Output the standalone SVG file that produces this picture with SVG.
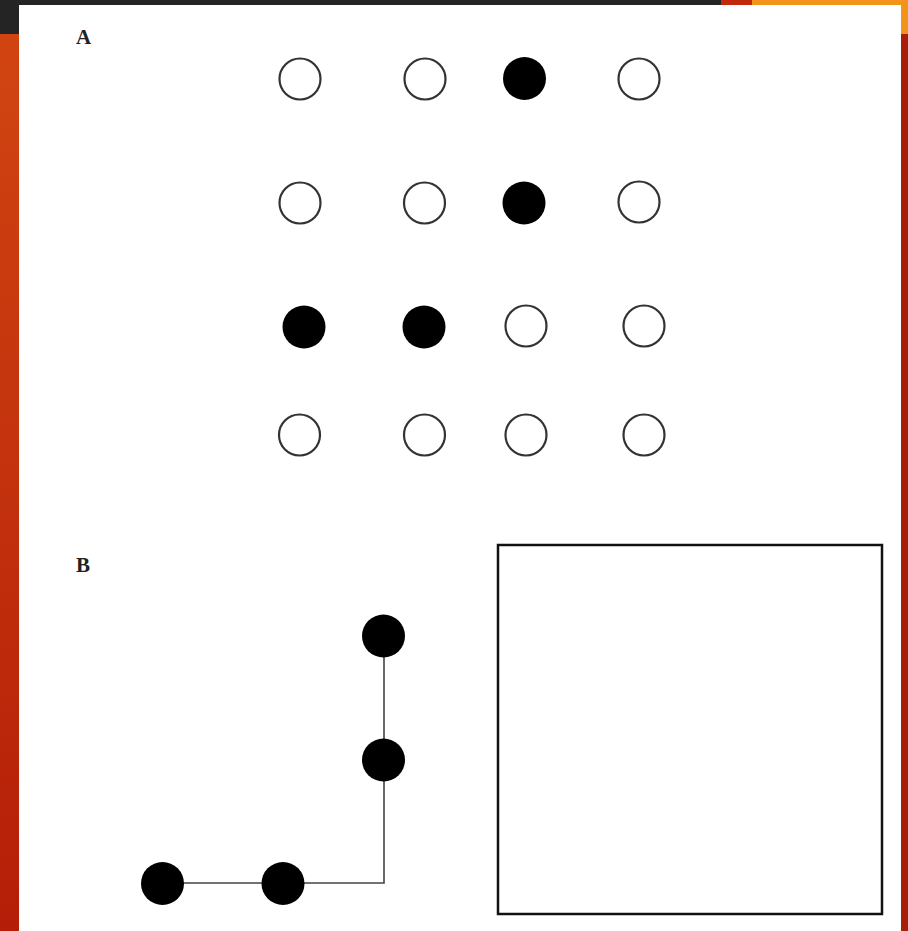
<svg xmlns="http://www.w3.org/2000/svg" width="908" height="931" viewBox="0 0 908 931">
<style>
.o{fill:#fff;stroke:#333;stroke-width:2.2}
.f{fill:#000;stroke:none}
.lbl{font-family:"Liberation Serif",serif;font-size:21px;font-weight:bold;fill:#222}
.edge{fill:none;stroke:#444;stroke-width:1.6}
</style>
<defs>
<linearGradient id="side" x1="0" y1="0" x2="0" y2="1">
<stop offset="0" stop-color="#d24612"/>
<stop offset="1" stop-color="#b41e08"/>
</linearGradient>
</defs>
<g id="background">
<rect x="0" y="0" width="908" height="931" fill="url(#side)"/>
<rect x="0" y="0" width="721" height="34" fill="#242424"/>
<rect x="721" y="0" width="31" height="5" fill="#c02a0a"/>
<rect x="752" y="0" width="156" height="5" fill="#f2941a"/>
<rect x="901" y="0" width="7" height="34" fill="#f2941a"/>
<rect x="901" y="34" width="7" height="897" fill="#a81e08"/>
<rect x="19" y="5" width="882" height="926" fill="#fff"/>
</g>
<g id="labels">
<text class="lbl" x="76" y="44">A</text>
<text class="lbl" x="76" y="572">B</text>
</g>
<g id="gridA">
<circle id="a11" class="o" cx="300" cy="79" r="20.5"/>
<circle id="a12" class="o" cx="425" cy="79" r="20.5"/>
<circle id="a13" class="f" cx="524.5" cy="78.5" r="21.5"/>
<circle id="a14" class="o" cx="639" cy="79" r="20.5"/>
<circle id="a21" class="o" cx="300" cy="203" r="20.5"/>
<circle id="a22" class="o" cx="424.5" cy="203" r="20.5"/>
<circle id="a23" class="f" cx="524" cy="203" r="21.5"/>
<circle id="a24" class="o" cx="639" cy="202" r="20.5"/>
<circle id="a31" class="f" cx="304" cy="327" r="21.5"/>
<circle id="a32" class="f" cx="424" cy="327" r="21.5"/>
<circle id="a33" class="o" cx="526" cy="326" r="20.5"/>
<circle id="a34" class="o" cx="644" cy="326" r="20.5"/>
<circle id="a41" class="o" cx="299.5" cy="435" r="20.5"/>
<circle id="a42" class="o" cx="424.5" cy="435" r="20.5"/>
<circle id="a43" class="o" cx="526" cy="435" r="20.5"/>
<circle id="a44" class="o" cx="644" cy="435" r="20.5"/>
</g>
<g id="connectors">
<polyline class="edge" points="162,883 384,883 384,636"/>
</g>
<g id="b1"><circle class="f" cx="162.5" cy="883.5" r="21.5"/></g>
<g id="b2"><circle class="f" cx="283" cy="883.5" r="21.5"/></g>
<g id="b3"><circle class="f" cx="383.5" cy="760" r="21.5"/></g>
<g id="b4"><circle class="f" cx="383.5" cy="636" r="21.5"/></g>
<g id="box"><rect x="498" y="545" width="384" height="369" fill="#fff" stroke="#111" stroke-width="2.5"/></g>
</svg>
